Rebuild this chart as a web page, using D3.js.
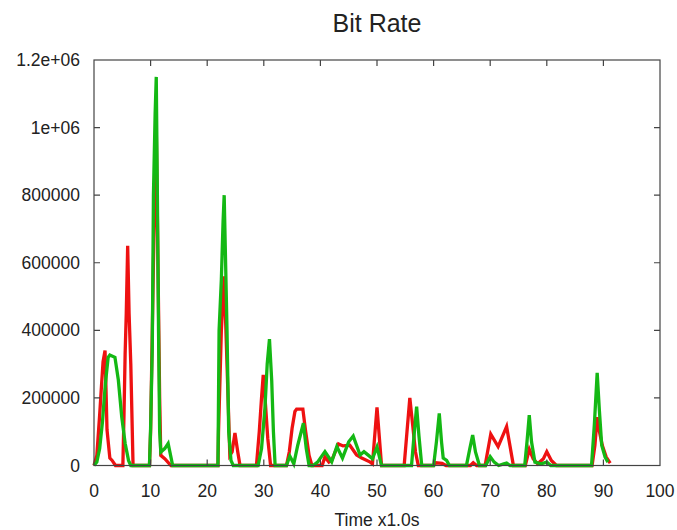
<!DOCTYPE html>
<html>
<head>
<meta charset="utf-8">
<script src="https://cdn.jsdelivr.net/npm/d3@7"></script>
<style>
  body { margin: 0; background: #fff; }
  svg text { font-family: "Liberation Sans", Arial, sans-serif; fill: #222; }
</style>
</head>
<body>
<svg id="chart" width="677" height="530"></svg>
<script>
// bit rate samples (time in s, rate in bit/s)
let redTime = [0, 0.5, 1, 1.3, 1.6, 1.95, 2.3, 2.8, 3.2, 3.8, 5.1, 5.3, 5.5, 5.7, 5.95, 6.2, 6.5, 6.9,
    9.8, 10, 10.5, 11, 11.3, 11.6, 11.8, 12.5, 13.6,
    21.9, 22, 22.5, 23, 23.5, 24, 24.4, 24.9, 25.4, 25.8,
    28.7, 29.2, 29.6, 29.9, 30.3, 30.7, 31.2,
    34, 34.5, 35, 35.5, 35.8, 36.9, 37.4, 38, 38.5,
    40.3, 40.8, 41.5, 42, 43.2, 44, 45.2, 46.4, 47.3, 48.8, 49.2, 50, 50.8,
    54.8, 55.3, 55.8, 56.3, 56.8, 57.3,
    60, 60.4, 61.5, 62.2, 66.5, 67, 67.6,
    69.1, 70.1, 71.4, 72.9, 74.1,
    76.2, 76.9, 77.6, 78.4, 79.4, 80, 80.8, 81.7,
    88, 88.5, 88.9, 89.3, 89.8, 90.5, 91.2];
let redRate = [0, 30000, 150000, 230000, 307000, 340000, 105000, 22000, 15000, 0, 0, 150000, 330000, 450000, 650000, 450000, 300000, 0,
    0, 100000, 600000, 1000000, 600000, 200000, 30000, 20000, 0,
    0, 100000, 400000, 560000, 300000, 30000, 40000, 96000, 40000, 0,
    0, 100000, 200000, 268000, 180000, 80000, 0,
    0, 40000, 110000, 160000, 167000, 167000, 100000, 30000, 0,
    0, 25000, 10000, 15000, 64000, 58000, 60000, 31000, 22000, 10000, 5000, 172000, 0,
    0, 100000, 200000, 120000, 40000, 0,
    0, 8000, 6000, 0, 0, 8000, 0,
    0, 93000, 56000, 115000, 0,
    0, 48000, 20000, 5000, 20000, 41000, 15000, 0,
    0, 60000, 143000, 100000, 60000, 25000, 7000];

let greenTime = [0, 0.5, 1, 1.5, 2, 2.5, 2.8, 3.7, 4.3, 4.9, 5.5, 6.1, 6.5,
    9.8, 10, 10.3, 10.5, 10.8, 11, 11.2, 11.4, 11.6, 11.8, 12.5, 13.1, 13.9,
    21.9, 22.1, 22.5, 22.8, 23, 23.3, 23.5, 23.8, 24.2, 24.6,
    29, 29.6, 30.2, 30.6, 31, 31.4, 31.7, 32,
    34, 34.6, 35.3, 36, 37, 37.5, 38, 38.7,
    39.5, 40.8, 42, 42.9, 43.9, 45, 45.8, 47, 47.7, 48.5, 49.2, 50, 50.8,
    56.1, 56.5, 57, 57.4, 57.9,
    60, 60.5, 61, 61.4, 61.7, 62.3, 62.8,
    65.8, 66.4, 66.9, 67.4, 68.1,
    69.2, 70, 70.7, 71.5, 72.4, 72.9, 73.5,
    76.1, 76.5, 76.9, 77.3, 77.9, 79, 80, 80.7,
    87.9, 88.4, 88.9, 89.3, 89.7, 90.3, 90.8];
let greenRate = [0, 10000, 50000, 130000, 240000, 320000, 327000, 320000, 253000, 144000, 66000, 15000, 0,
    0, 110000, 350000, 800000, 1040000, 1150000, 800000, 400000, 100000, 40000, 50000, 65000, 0,
    0, 400000, 550000, 720000, 800000, 560000, 400000, 100000, 15000, 0,
    0, 50000, 170000, 300000, 374000, 250000, 100000, 0,
    0, 28000, 5000, 60000, 125000, 50000, 0, 0,
    10000, 41000, 11000, 56000, 22000, 70000, 87000, 31000, 41000, 30000, 20000, 55000, 0,
    0, 80000, 174000, 90000, 0,
    0, 70000, 154000, 70000, 22000, 15000, 0,
    0, 50000, 90000, 40000, 0,
    0, 26000, 10000, 0, 5000, 7000, 0,
    0, 70000, 149000, 70000, 10000, 5000, 10000, 0,
    0, 120000, 274000, 160000, 60000, 25000, 10000];

let xTicks = [0, 10, 20, 30, 40, 50, 60, 70, 80, 90, 100];
let yTicks = [0, 200000, 400000, 600000, 800000, 1000000, 1200000];

let svg = d3.select("#chart");
let plot = {"left": 94, "right": 660, "top": 60, "bottom": 465.5};

let xscale = d3.scaleLinear().domain([0, 100]).range([plot.left, plot.right]);
let yscale = d3.scaleLinear().domain([0, 1200000]).range([plot.bottom, plot.top]);

function yfmt(v) {
    if (v >= 1000000) {
        return (v / 1000000) + "e+06";
    }
    return String(v);
}

let linea = (ts, vs) => d3.line()
    .x((d, i) => xscale(ts[i]))
    .y(d => yscale(d))(vs);

svg.append("path")
    .attr("d", linea(redTime, redRate))
    .style("fill", "none")
    .style("stroke", "#ee1111")
    .style("stroke-width", 3.3);

svg.append("path")
    .attr("d", linea(greenTime, greenRate))
    .style("fill", "none")
    .style("stroke", "#14b814")
    .style("stroke-width", 3.3);

// borde y marcas hacia dentro en los cuatro lados
svg.append("rect")
    .attr("x", plot.left)
    .attr("y", plot.top)
    .attr("width", plot.right - plot.left)
    .attr("height", plot.bottom - plot.top)
    .style("fill", "none")
    .style("stroke", "#444")
    .style("stroke-width", 1.2);

let tk = 6;

svg.selectAll(".xtb")
    .data(xTicks.slice(1, -1))
    .enter()
    .append("path")
    .attr("d", d => `M${xscale(d)},${plot.bottom}v${-tk}M${xscale(d)},${plot.top}v${tk}`)
    .style("stroke", "#444")
    .style("stroke-width", 1.2);

svg.selectAll(".ytb")
    .data(yTicks.slice(1, -1))
    .enter()
    .append("path")
    .attr("d", d => `M${plot.left},${yscale(d)}h${tk}M${plot.right},${yscale(d)}h${-tk}`)
    .style("stroke", "#444")
    .style("stroke-width", 1.2);

svg.selectAll(".xlab")
    .data(xTicks)
    .enter()
    .append("text")
    .attr("x", d => xscale(d))
    .attr("y", plot.bottom + 31)
    .text(d => d)
    .style("text-anchor", "middle")
    .style("font-size", "17.5px");

svg.selectAll(".ylab")
    .data(yTicks)
    .enter()
    .append("text")
    .attr("x", plot.left - 14)
    .attr("y", d => yscale(d) + 6)
    .text(yfmt)
    .style("text-anchor", "end")
    .style("font-size", "17.5px");

svg.append("text")
    .attr("x", (plot.left + plot.right) / 2)
    .attr("y", 526)
    .text("Time x1.0s")
    .style("text-anchor", "middle")
    .style("font-size", "17.5px");

svg.append("text")
    .attr("x", (plot.left + plot.right) / 2)
    .attr("y", 32)
    .text("Bit Rate")
    .style("text-anchor", "middle")
    .style("font-size", "25px");
</script>
</body>
</html>
